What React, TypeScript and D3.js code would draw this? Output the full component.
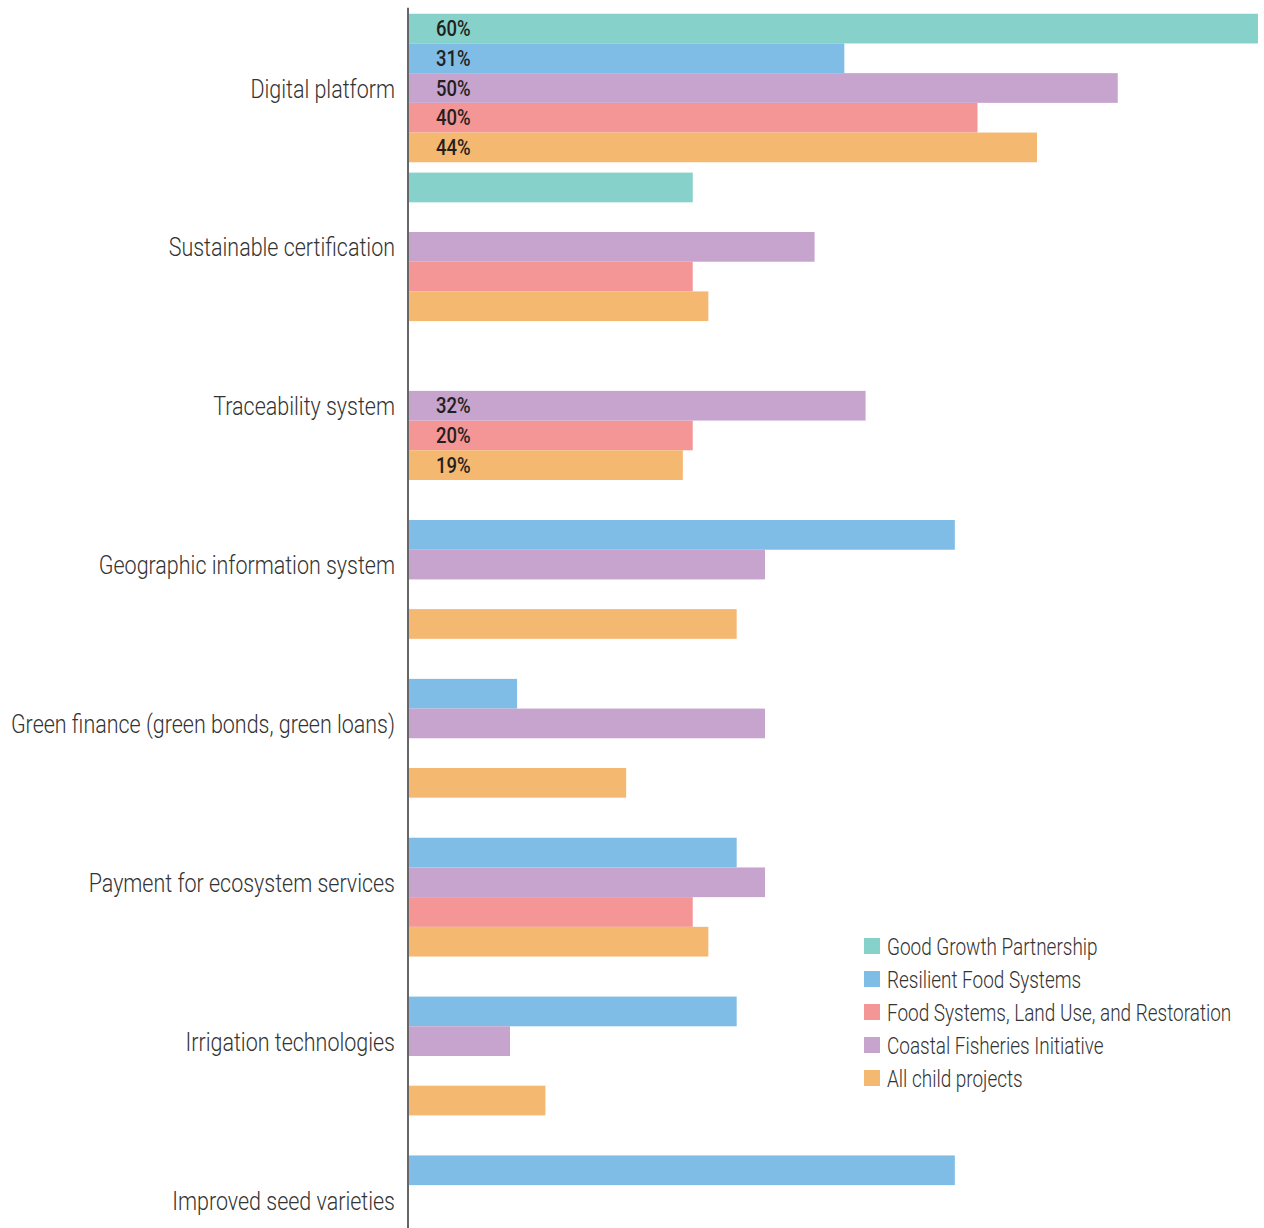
import React from "react";
import * as d3 from "d3";

const categories = [
  "Digital platform",
  "Sustainable certification",
  "Traceability system",
  "Geographic information system",
  "Green finance (green bonds, green loans)",
  "Payment for ecosystem services",
  "Irrigation technologies",
  "Improved seed varieties",
];

const seriesNames = [
  "Good Growth Partnership",
  "Resilient Food Systems",
  "Food Systems, Land Use, and Restoration",
  "Coastal Fisheries Initiative",
  "All child projects",
];

// values in percent, null = not reported
const goodGrowth = [60, 20.1, null, null, null, null, null, null];
const resilientFood = [30.8, null, null, 38.6, 7.7, 23.2, 23.2, 38.6];
const foodSystemsLand = [40.2, 20.1, 20.1, null, null, 20.1, null, null];
const coastalFisheries = [50.1, 28.7, 32.3, 25.2, 25.2, 25.2, 7.2, null];
const allChild = [44.4, 21.2, 19.4, 23.2, 15.4, 21.2, 9.7, null];

const seriesValues = [goodGrowth, resilientFood, foodSystemsLand, coastalFisheries, allChild];
const seriesColors = ["#86d1c9", "#7fbce6", "#f49696", "#c6a4cd", "#f4b871"];
// vertical order of bars within a category group
const slotOrder = [
  "Good Growth Partnership",
  "Resilient Food Systems",
  "Coastal Fisheries Initiative",
  "Food Systems, Land Use, and Restoration",
  "All child projects",
];
const labeledCategories = ["Digital platform", "Traceability system"];

const W = 1264;
const H = 1228;
const FONT = "Roboto, 'Liberation Sans', sans-serif";

export default function App() {
  const allVals = seriesValues.flat().filter((v) => v != null) as number[];
  const x = d3.scaleLinear().domain([0, d3.max(allVals) as number]).range([408, 1258]);
  const y = d3.scalePoint<string>().domain(categories).range([88, 1200]);
  const step = 29.7;
  const inner = d3
    .scaleBand<string>()
    .domain(slotOrder)
    .range([-step * 2.5, step * 2.5])
    .padding(0);
  const axisTop = Math.max(0, (y(categories[0]) as number) + (inner(slotOrder[0]) as number) - 6);

  const bars: any[] = [];
  seriesNames.forEach((s, si) => {
    seriesValues[si].forEach((v, ci) => {
      if (v == null) return;
      const cat = categories[ci];
      bars.push({ s, si, v, cat, y: (y(cat) as number) + (inner(s) as number) });
    });
  });

  return (
    <svg
      width={W}
      height={H}
      style={{ position: "absolute", left: 0, top: 0, overflow: "hidden", background: "#fff" }}
    >
      {bars.map((b, i) => (
        <rect
          key={i}
          x={409}
          y={b.y}
          width={x(b.v) - 409}
          height={inner.bandwidth()}
          fill={seriesColors[b.si]}
        />
      ))}
      {bars
        .filter((b) => labeledCategories.includes(b.cat))
        .map((b, i) => (
          <text
            key={"l" + i}
            transform={`translate(436,${b.y + inner.bandwidth() / 2}) scale(0.86,1)`}
            dy="0.36em"
            fontFamily={FONT}
            fontWeight={500}
            fontSize={21.5}
            fill="#231f20"
          >
            {Math.round(b.v)}%
          </text>
        ))}
      <line x1={408} x2={408} y1={axisTop} y2={H} stroke="#333" strokeWidth={1.5} />
      {categories.map((c) => (
        <text
          key={c}
          transform={`translate(395,${y(c)}) scale(0.81,1)`}
          dy="0.36em"
          textAnchor="end"
          fontFamily={FONT}
          fontWeight={300}
          fontSize={26.5}
          fill="#333"
        >
          {c}
        </text>
      ))}
      <g transform="translate(864,938)">
        {seriesNames.map((s, i) => (
          <g key={s} transform={`translate(0,${i * 33})`}>
            <rect width={16} height={16} fill={seriesColors[i]} />
            <text
              transform={`translate(23,8) scale(0.79,1)`}
              dy="0.36em"
              fontFamily={FONT}
              fontWeight={300}
              fontSize={24}
              fill="#333"
            >
              {s}
            </text>
          </g>
        ))}
      </g>
    </svg>
  );
}
